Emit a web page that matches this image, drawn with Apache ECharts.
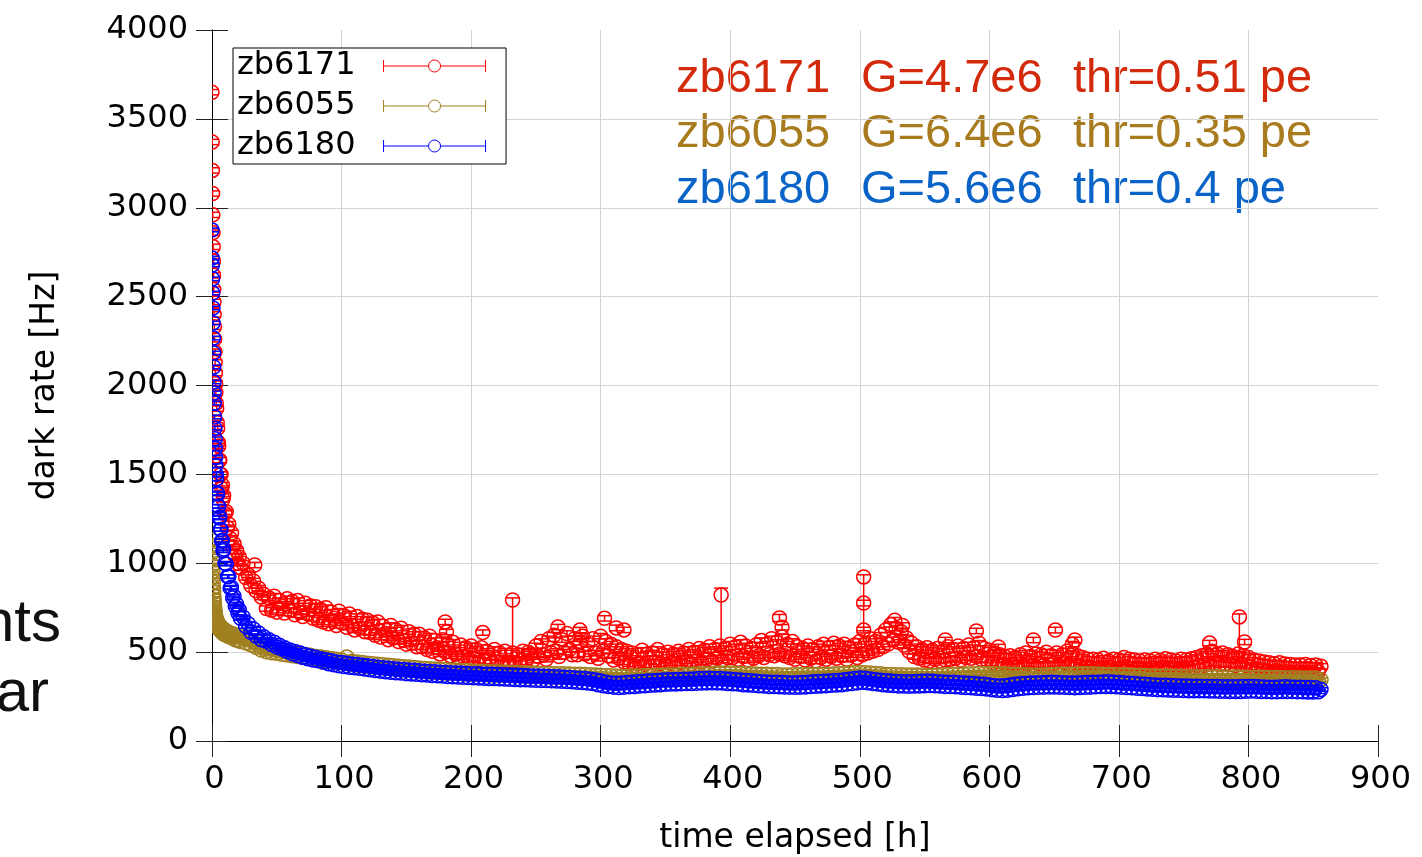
<!DOCTYPE html>
<html>
<head>
<meta charset="utf-8">
<script src="https://cdn.jsdelivr.net/npm/echarts@6/dist/echarts.min.js"></script>
<style>html,body{margin:0;padding:0;background:#fff;}#c{width:1422px;height:857px;}</style>
</head>
<body>
<div id="c"></div>
<script>
// ---- data ----
const hours = [
0,0.15,0.3,0.45,0.6,0.75,0.9,1.05,1.2,1.35,
1.5,1.65,1.8,2.0,2.2,2.4,2.6,2.8,3.0,3.3,
3.6,4.0,4.4,4.8,5.2,5.6,6.0,6.5,7.0,7.5,
8.0,8.5,9,10,11,12,13,14,15,16,
17,18,19,20,21,22,24,26,28,30,
32,34,36,38,
40,42,44,46,48,50,52,54,56,58,60,62,64,66,68,70,72,74,76,78,
80,82,84,86,88,90,92,94,96,98,100,102,104,106,108,110,112,114,116,118,
120,122,124,126,128,130,132,134,136,138,140,142,144,146,148,150,152,154,156,158,
160,162,164,166,168,170,172,174,176,178,180,182,184,186,188,190,192,194,196,198,
200,202,204,206,208,210,212,214,216,218,220,222,224,226,228,230,232,234,236,238,
240,242,244,246,248,250,252,254,256,258,260,262,264,266,268,270,272,274,276,278,
280,282,284,286,288,290,292,294,296,298,300,302,304,306,308,310,312,314,316,318,
320,322,324,326,328,330,332,334,336,338,340,342,344,346,348,350,352,354,356,358,
360,362,364,366,368,370,372,374,376,378,380,382,384,386,388,390,392,394,396,398,
400,402,404,406,408,410,412,414,416,418,420,422,424,426,428,430,432,434,436,438,
440,442,444,446,448,450,452,454,456,458,460,462,464,466,468,470,472,474,476,478,
480,482,484,486,488,490,492,494,496,498,500,502,504,506,508,510,512,514,516,518,
520,522,524,526,528,530,532,534,536,538,540,542,544,546,548,550,552,554,556,558,
560,562,564,566,568,570,572,574,576,578,580,582,584,586,588,590,592,594,596,598,
600,602,604,606,608,610,612,614,616,618,620,622,624,626,628,630,632,634,636,638,
640,642,644,646,648,650,652,654,656,658,660,662,664,666,668,670,672,674,676,678,
680,682,684,686,688,690,692,694,696,698,700,702,704,706,708,710,712,714,716,718,
720,722,724,726,728,730,732,734,736,738,740,742,744,746,748,750,752,754,756,758,
760,762,764,766,768,770,772,774,776,778,780,782,784,786,788,790,792,794,796,798,
800,802,804,806,808,810,812,814,816,818,820,822,824,826,828,830,832,834,836,838,
840,842,844,846,848,850,852,854,856
];

const rate6171 = [
3650,3370,3210,3080,2960,2860,2780,2700,2620,2540,
2470,2400,2330,2260,2190,2130,2070,2010,1960,1900,
1870,1790,1760,1680,1660,1580,1580,1500,1500,1420,
1440,1360,1380,1280,1290,1200,1220,1140,1170,1090,
1110,1040,1070,1000,1035,975,1000,920,935,875,
900,845,860,810,
825,745,805,735,815,725,790,760,720,800,735,785,710,790,725,700,775,715,760,690,
755,680,740,670,750,660,725,690,650,730,665,705,640,715,650,625,700,635,685,615,
680,610,665,595,670,585,645,605,570,650,580,625,560,635,565,545,615,550,600,530,
600,530,580,515,590,505,565,525,490,570,500,545,480,555,490,470,540,475,525,460,
535,465,515,455,525,450,505,470,440,515,445,495,435,505,440,430,495,440,485,435,
505,445,500,490,455,535,475,560,485,460,575,495,595,505,475,570,500,605,515,485,
575,485,555,590,490,545,475,575,495,465,590,505,560,480,545,455,530,465,515,445,
505,435,495,425,485,440,510,430,490,420,495,445,515,435,485,425,500,440,490,430,
505,440,495,450,515,435,500,455,520,445,510,460,530,450,515,465,535,455,520,470,
545,470,530,460,555,475,535,455,520,465,540,480,565,470,545,485,575,480,555,490,
585,480,545,470,560,460,530,475,520,455,535,465,515,450,530,470,545,460,525,475,
550,465,535,480,545,460,525,485,540,470,560,485,545,495,575,505,560,515,595,530,
625,545,655,570,635,555,615,540,580,505,550,475,530,465,515,455,525,450,510,460,
520,450,505,455,530,460,515,465,535,455,520,470,540,465,525,475,550,460,520,455,
510,440,495,430,485,425,475,415,480,430,470,420,485,425,495,435,475,425,490,430,
485,425,500,430,480,435,495,425,485,440,505,430,490,425,480,415,470,410,460,415,
460,405,455,410,465,403,450,413,460,405,455,410,470,415,460,405,455,410,450,405,
455,403,450,410,460,405,453,413,463,407,455,410,450,403,460,413,455,407,463,415,
470,417,480,425,490,435,505,440,490,430,495,435,485,430,475,425,490,435,480,425,
470,415,455,405,450,400,445,395,440,390,435,395,440,385,433,390,430,385,427,387,
427,385,430,387,425,383,427,390,420
];

const rate6055 = [
1130,1095,1060,1025,990,955,925,895,865,840,
815,795,775,755,740,725,712,700,690,680,
685,652,670,640,660,628,650,620,642,612,
634,605,628,598,620,590,612,585,605,578,
600,570,594,565,588,560,580,552,570,542,
558,528,540,512,
522,502,517,497,513,493,508,488,504,484,499,479,495,475,490,470,486,466,482,462,
476,456,472,452,468,448,464,444,460,440,456,436,472,432,448,428,444,424,441,421,
438,418,435,415,432,412,429,409,426,406,423,403,420,400,418,398,416,396,413,393,
410,390,408,388,406,386,405,385,403,383,402,382,400,380,399,379,397,377,396,376,
394,374,393,373,392,372,391,371,390,370,389,369,388,368,387,367,386,366,385,365,
383,363,382,362,382,362,381,361,380,360,380,360,379,359,378,358,378,358,377,357,
376,356,375,355,374,354,373,353,371,351,370,350,369,349,367,347,366,346,364,344,
364,344,365,345,366,346,367,347,368,348,369,349,370,350,371,351,371,351,372,352,
374,354,375,355,376,356,377,357,378,358,379,359,380,360,381,361,382,362,382,362,
382,362,381,361,380,360,379,359,378,358,377,357,376,356,375,355,374,354,374,354,
372,352,372,352,373,353,373,353,374,354,374,354,375,355,375,355,376,356,376,356,
378,358,379,359,381,361,383,363,385,365,386,366,384,364,382,362,380,360,378,358,
374,354,374,354,373,353,373,353,372,352,372,352,371,351,371,351,370,350,370,350,
372,352,373,353,374,354,375,355,376,356,377,357,378,358,379,359,380,360,380,360,
380,360,379,359,378,358,377,357,376,356,375,355,374,354,373,353,372,352,372,352,
372,352,373,353,374,354,375,355,376,356,376,356,377,357,377,357,378,358,378,358,
378,358,377,357,376,356,375,355,374,354,373,353,372,352,371,351,370,350,370,350,
368,348,367,347,366,346,366,346,365,345,364,344,364,344,363,343,362,342,362,342,
362,342,362,342,361,341,361,341,361,341,360,340,360,340,360,340,360,340,359,339,
359,339,359,339,358,338,358,338,357,337,357,337,357,337,356,336,356,336,356,336,
355,335,355,335,354,335,354,336,345
];

const rate6180 = [
2875,2717,2678,2600,2520,2436,2352,2267,2183,2104,
2020,1958,1901,1823,1760,1700,1645,1595,1550,1500,
1475,1395,1390,1320,1320,1255,1260,1190,1190,1125,
1130,1070,1080,1000,995,925,925,860,865,805,
815,757,770,720,738,690,698,645,660,612,
630,590,608,570,
587,561,569,543,555,529,539,517,525,503,512,491,503,481,495,471,485,463,477,455,
471,451,463,443,457,435,451,429,445,423,441,419,437,415,433,412,430,409,426,405,
423,401,419,397,415,393,412,390,409,387,406,384,404,382,402,379,400,377,398,375,
395,373,393,371,391,369,389,367,387,365,386,363,384,361,383,360,382,358,380,357,
379,356,378,355,377,353,376,352,375,351,374,350,373,349,372,347,371,346,370,345,
368,344,367,343,366,342,365,341,364,340,363,339,362,338,361,336,359,335,357,333,
355,331,353,329,351,326,348,323,343,317,337,311,331,307,327,303,325,301,327,303,
329,305,331,307,333,309,335,311,337,313,339,315,341,317,343,319,344,320,345,321,
346,322,347,323,348,324,349,325,351,326,352,327,353,328,352,327,351,326,349,324,
347,322,345,320,343,317,341,315,339,313,336,311,334,309,332,307,331,306,330,305,
329,304,328,303,327,302,328,303,329,304,331,306,333,308,335,310,336,311,337,313,
339,315,341,317,344,320,347,323,351,327,355,331,353,328,349,324,345,320,342,317,
339,314,337,312,335,310,334,309,333,308,334,309,335,310,336,311,337,312,336,311,
334,309,332,307,331,306,330,305,328,303,327,301,325,299,323,297,321,295,319,293,
315,289,311,286,309,284,311,286,315,290,319,294,322,297,324,299,326,301,327,302,
328,303,329,304,330,304,329,303,328,302,327,301,326,300,327,301,328,302,329,303,
330,305,331,306,332,307,333,307,331,305,329,303,327,301,325,299,323,297,321,295,
319,293,317,291,315,289,314,288,313,287,312,286,311,285,310,284,309,283,308,283,
308,282,307,282,307,281,306,281,306,280,305,280,305,279,305,279,305,279,306,280,
307,281,306,280,305,279,304,278,303,277,303,277,304,278,305,279,304,278,303,277,
302,277,301,276,301,276,300,277,290
];

// isolated zb6171 points with their own error bars: [hours, rate, low, high]
const spikes6171 = [
[33,990,975,1005],[180,670,655,685],[181,613,598,628],[209,610,595,625],
[232,793,472,805],[267,641,626,656],[284,624,609,639],[303,690,675,705],
[312,636,620,652],[318,625,610,640],[393,821,510,860],[438,692,672,712],
[440,640,625,655],[503,923,620,935],[503,776,760,792],[503,624,608,640],
[527,680,665,695],[533,650,635,665],[566,568,553,583],[590,619,604,634],
[607,529,514,544],[634,568,553,583],[651,624,608,640],[666,568,552,584],
[664,545,530,560],[770,551,536,566],[793,698,500,715],[797,557,542,572]
];

// half length of the typical error bar, Hz
const err6171 = 15, err6055 = 10, err6180 = 10;

const seriesNames = ['zb6171', 'zb6055', 'zb6180'];
const seriesColors = ['#ff0000', '#a08020', '#0000ff'];
const notes = [
  ['zb6171', 'G=4.7e6', 'thr=0.51 pe'],
  ['zb6055', 'G=6.4e6', 'thr=0.35 pe'],
  ['zb6180', 'G=5.6e6', 'thr=0.4 pe']
];
const noteColors = ['#d42a0c', '#a87b1e', '#0a64c8'];
const sideText = ['nts', 'ar'];

// ---- chart ----
const MARK_R = 7, CAP = 7, LW = 1.5;
function withErr(rates, err) {
  return hours.map((t, i) => [t, rates[i], rates[i] - err, rates[i] + err]);
}
function errRender(color) {
  return function (params, api) {
    const t = api.value(0), v = api.value(1), lo = api.value(2), hi = api.value(3);
    const c = api.coord([t, v]);
    const yl = api.coord([t, lo])[1];
    const yh = api.coord([t, hi])[1];
    const st = { stroke: color, lineWidth: LW, fill: 'none' };
    return {
      type: 'group',
      children: [
        { type: 'circle', shape: { cx: c[0], cy: c[1], r: MARK_R }, style: st },
        { type: 'line', shape: { x1: c[0], y1: yl, x2: c[0], y2: yh }, style: st },
        { type: 'line', shape: { x1: c[0] - CAP, y1: yl, x2: c[0] + CAP, y2: yl }, style: st },
        { type: 'line', shape: { x1: c[0] - CAP, y1: yh, x2: c[0] + CAP, y2: yh }, style: st }
      ]
    };
  };
}

const dataSets = [
  withErr(rate6171, err6171).concat(spikes6171),
  withErr(rate6055, err6055),
  withErr(rate6180, err6180)
];

const FONT = 'DejaVu Sans';
const legendIcon = 'path://M0,0L0,12M0,6L45,6M57,6L102,6M102,0L102,12M57,6A6,6,0,1,1,45,6A6,6,0,1,1,57,6';

const axisCommon = {
  min: 0,
  axisLine: { show: true, lineStyle: { color: '#000', width: 1 } },
  axisTick: { show: true, inside: true, length: 16, lineStyle: { color: '#222', width: 1 } }
};

const graphics = [];
notes.forEach((row, i) => {
  const xs = [676, 861, 1073];
  row.forEach((s, j) => {
    graphics.push({
      type: 'text', x: xs[j], y: 79 + i * 55.5,
      style: { text: s, font: '47px "Liberation Sans"', fill: noteColors[i],
               textAlign: 'left', textVerticalAlign: 'middle', align: 'left', verticalAlign: 'middle' }
    });
  });
});
graphics.push({ type: 'text', x: 61, y: 624,
  style: { text: sideText[0], font: '60px "Liberation Sans"', fill: '#111',
           textAlign: 'right', textVerticalAlign: 'middle', align: 'right', verticalAlign: 'middle' } });
graphics.push({ type: 'text', x: 49, y: 694,
  style: { text: sideText[1], font: '60px "Liberation Sans"', fill: '#111',
           textAlign: 'right', textVerticalAlign: 'middle', align: 'right', verticalAlign: 'middle' } });

const option = {
  backgroundColor: '#fff',
  animation: false,
  grid: { left: 212, right: 44, top: 30, bottom: 116, containLabel: false, outerBoundsMode: 'none' },
  legend: {
    left: 233, top: 48, orient: 'vertical', align: 'right',
    selectedMode: false,
    itemWidth: 102, itemHeight: 12, itemGap: 4,
    padding: [0, 18, 0, 4],
    borderColor: '#000', borderWidth: 1, backgroundColor: '#fff',
    textStyle: { fontFamily: FONT, fontSize: 32, color: '#000', lineHeight: 36, padding: [0, 23, 0, 0] },
    data: seriesNames.map((n, i) => ({
      name: n, icon: legendIcon,
      itemStyle: { color: 'none', borderColor: seriesColors[i], borderWidth: 1 }
    }))
  },
  xAxis: [
    Object.assign({}, axisCommon, {
      type: 'value', position: 'bottom', max: 900, interval: 100,
      name: 'time elapsed [h]', nameLocation: 'middle', nameGap: 81,
      nameTextStyle: { fontFamily: FONT, fontSize: 33, color: '#000' },
      axisLabel: { fontFamily: FONT, fontSize: 32, color: '#000', margin: 23, padding: [0, 0, 0, 5] },
      splitLine: { show: true, showMinLine: false, showMaxLine: false, lineStyle: { color: '#d4d4d4', width: 1 } }
    }),
    Object.assign({}, axisCommon, {
      type: 'value', position: 'top', max: 900, interval: 100,
      axisLabel: { show: false }, splitLine: { show: false }
    })
  ],
  yAxis: [
    Object.assign({}, axisCommon, {
      type: 'value', position: 'left', max: 4000, interval: 500,
      name: 'dark rate [Hz]', nameLocation: 'middle', nameGap: 150,
      nameTextStyle: { fontFamily: FONT, fontSize: 33, color: '#000' },
      axisLabel: { fontFamily: FONT, fontSize: 32, color: '#000', margin: 24, formatter: v => String(v) },
      splitLine: { show: true, showMinLine: false, showMaxLine: false, lineStyle: { color: '#d4d4d4', width: 1 } }
    }),
    Object.assign({}, axisCommon, {
      type: 'value', position: 'right', max: 4000, interval: 500,
      axisLabel: { show: false }, splitLine: { show: false }
    })
  ],
  series: seriesNames.map((n, i) => ({
    name: n, type: 'custom', xAxisIndex: 0, yAxisIndex: 0,
    clip: true,
    encode: { x: 0, y: 1 },
    itemStyle: { color: seriesColors[i] },
    renderItem: errRender(seriesColors[i]),
    data: dataSets[i],
    z: 2 + i
  })),
  graphic: graphics
};

const chart = echarts.init(document.getElementById('c'));
chart.setOption(option);
</script>
</body>
</html>
